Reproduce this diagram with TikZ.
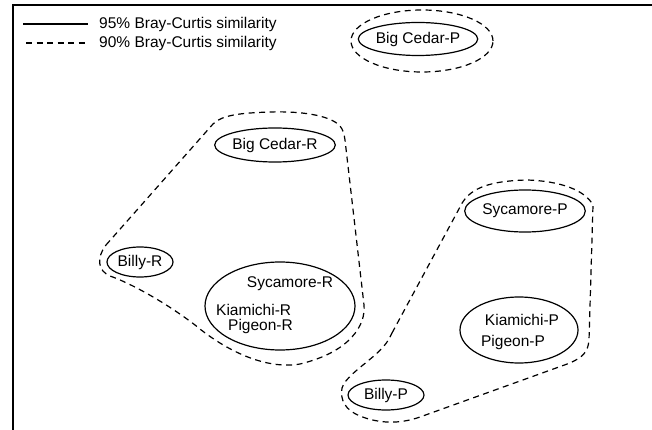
\documentclass[tikz,border=0pt]{standalone}
\usepackage{fontspec}
\setmainfont{Liberation Sans}
\usetikzlibrary{shapes.geometric}
\begin{document}
\begin{tikzpicture}[x=1pt,y=-1pt,
  lbl/.style={font=\fontsize{15.5}{18}\selectfont, inner sep=0pt},
  site/.style={draw, ellipse, line width=1.2pt, inner sep=0pt, font=\fontsize{15.5}{18}\selectfont},
  grp/.style={draw, line width=1.2pt, dash pattern=on 6pt off 4.5pt},
  frame/.style={line width=2pt}]
\useasboundingbox (0,0) rectangle (652,430);
% frame
\coordinate (fbl) at (13,430);
\coordinate (ftl) at (13,5);
\coordinate (ftr) at (652,5);
\draw[frame] (fbl) -- (ftl) -- (ftr);
% legend
\coordinate (l1a) at (23,24); \coordinate (l1b) at (88,24);
\coordinate (l2a) at (26,43); \coordinate (l2b) at (88,43);
\draw[line width=1.2pt] (l1a) -- (l1b);
\draw[grp] (l2a) -- (l2b);
\node[lbl, anchor=west] (leg1) at (99,24) {95\% Bray-Curtis similarity};
\node[lbl, anchor=west] (leg2) at (99,43) {90\% Bray-Curtis similarity};
% Big Cedar-P
\node[site, minimum width=104pt, minimum height=33pt] (bcp) at (418,39) {Big Cedar-P};
\node[grp, ellipse, minimum width=142pt, minimum height=62pt] (bcpg) at (422,41) {};
% R cluster
\node[site, minimum width=100pt, minimum height=34pt] (bcr) at (275,145) {Big Cedar-R};
\node[site, minimum width=66pt, minimum height=30pt] (billyr) at (140,262) {Billy-R};
\node[site, minimum width=150pt, minimum height=88pt] (bigr) at (280,306) {};
\node[lbl, anchor=base] (syr) at (290,287) {Sycamore-R};
\node[lbl, anchor=base west] (kir) at (216,315) {Kiamichi-R};
\node[lbl, anchor=base west] (pir) at (228,330) {Pigeon-R};
\draw[grp] (106,245) -- (213,124) .. controls (222,115) and (240,113) .. (270,112)
  .. controls (300,111) and (330,115) .. (340,126) .. controls (343,130) and (344,133) .. (345,140)
  -- (364,305) .. controls (366,325) and (350,352) .. (300,364)
  .. controls (265,370) and (225,350) .. (195,325)
  .. controls (165,302) and (130,283) .. (110,276)
  .. controls (98,271) and (96,258) .. (106,245) -- cycle;
% P cluster
\node[site, minimum width=106pt, minimum height=42pt] (syp) at (525,211) {Sycamore-P};
\node[site, minimum width=118pt, minimum height=66pt] (bigp) at (519,330) {};
\node[lbl, anchor=base] (kip) at (522,325) {Kiamichi-P};
\node[lbl, anchor=base] (pip) at (513,346) {Pigeon-P};
\node[site, minimum width=76pt, minimum height=30pt] (billyp) at (386,395) {Billy-P};
\draw[grp] (392,333) -- (460,207) .. controls (468,190) and (485,181) .. (527,180)
  .. controls (560,181) and (585,190) .. (593,205) -- (589,340)
  .. controls (588,352) and (583,357) .. (570,363) -- (420,417)
  .. controls (400,424) and (380,424) .. (360,416)
  .. controls (345,410) and (340,400) .. (342,388)
  .. controls (345,378) and (360,368) .. (375,355)
  .. controls (385,346) and (389,340) .. (392,333) -- cycle;
\end{tikzpicture}
\end{document}
